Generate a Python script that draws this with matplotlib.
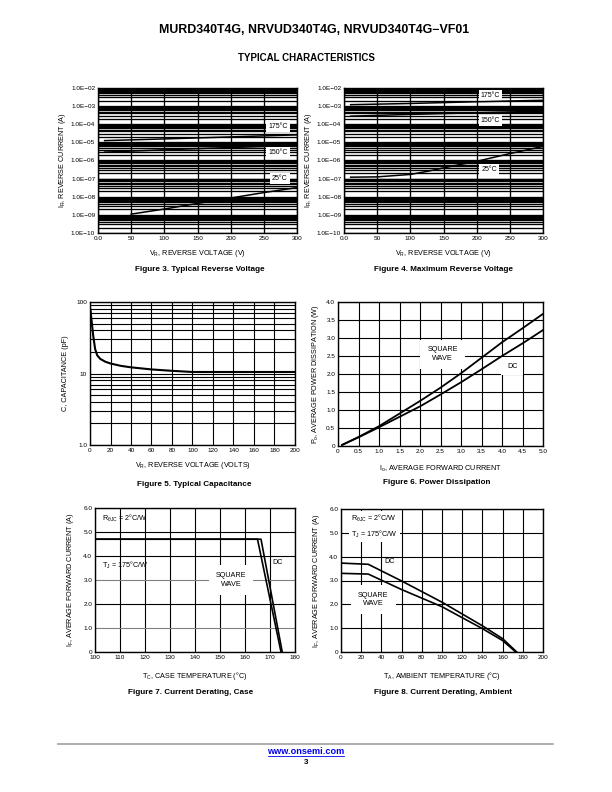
"""Typical characteristics page: MURD340T4G reverse current, capacitance, power, derating."""

import matplotlib
matplotlib.use("Agg")
import matplotlib.pyplot as plt
from matplotlib.lines import Line2D
from matplotlib.ticker import FixedLocator, LogLocator, NullFormatter

plt.rcParams["font.family"] = ["Liberation Sans", "DejaVu Sans"]
plt.rcParams["mathtext.default"] = "regular"

W, H = 612, 792

# Figure 3, typical reverse current (A) vs reverse voltage (V)
fig3_v_175 = [10, 100, 200, 300]
fig3_i_175 = [1.25e-5, 1.55e-5, 2.0e-5, 2.6e-5]
fig3_v_150 = [10, 100, 170, 240, 300]
fig3_i_150 = [2.9e-6, 3.9e-6, 4.8e-6, 5.8e-6, 7.0e-6]
fig3_v_25 = [50, 100, 150, 200, 250, 300]
fig3_i_25 = [1.1e-9, 2.1e-9, 4.3e-9, 8.5e-9, 1.7e-8, 3.2e-8]

# Figure 4, maximum reverse current
fig4_v_175 = [10, 100, 200, 300]
fig4_i_175 = [1.2e-3, 1.4e-3, 1.75e-3, 2.1e-3]
fig4_v_150 = [10, 100, 200, 300]
fig4_i_150 = [2.8e-4, 3.5e-4, 4.3e-4, 5.3e-4]
fig4_v_25 = [10, 50, 100, 125, 150, 175, 200, 250, 300]
fig4_i_25 = [1.2e-7, 1.25e-7, 1.7e-7, 2.5e-7, 3.9e-7, 6.0e-7, 9.0e-7, 2.4e-6, 6.0e-6]

# Figure 5, capacitance (pF) vs reverse voltage (V)
fig5_v = [0.5, 1, 2, 3, 5, 7, 10, 15, 20, 30, 40, 60, 80, 100, 150, 200]
fig5_c = [78, 65, 48, 35, 22, 18, 16, 14.6, 13.8, 12.8, 12.2, 11.4, 10.9, 10.5, 10.5, 10.5]

# Figure 6, power dissipation (W) vs average forward current (A)
fig6_io = [0.1, 0.5, 1.0, 1.5, 2.0, 2.5, 3.0, 3.5, 4.0, 4.5, 5.0]
fig6_sq = [0.03, 0.25, 0.55, 0.9, 1.25, 1.62, 2.02, 2.45, 2.88, 3.27, 3.67]
fig6_dc = [0.03, 0.24, 0.52, 0.81, 1.1, 1.43, 1.77, 2.13, 2.5, 2.85, 3.22]

# Figure 7, derating vs case temperature
fig7_tc_sq = [100, 165, 174.4]
fig7_if_sq = [4.7, 4.7, 0]
fig7_tc_dc = [100, 166.4, 174.9]
fig7_if_dc = [4.7, 4.7, 0]

# Figure 8, derating vs ambient temperature
fig8_ta_dc = [0, 27, 60, 100, 140, 160, 174]
fig8_if_dc = [3.73, 3.68, 2.98, 2.09, 1.1, 0.56, 0]
fig8_ta_sq = [0, 27, 60, 100, 140, 160, 173]
fig8_if_sq = [3.3, 3.27, 2.62, 1.9, 0.98, 0.48, 0]

TICK = 4.6
LAB = 5.2
CAP = 5.9
WHITE = dict(facecolor="white", edgecolor="none", pad=1.5)


def make_axes(fig, x0, y0, x1, y1):
    ax = fig.add_axes([x0 / W, 1 - y1 / H, (x1 - x0) / W, (y1 - y0) / H])
    for sp in ax.spines.values():
        sp.set_linewidth(1.0)
    ax.tick_params(which="both", length=0, labelsize=TICK, pad=2)
    return ax


def style_grid(ax, lw=0.8):
    ax.grid(which="both", color="black", linewidth=lw)
    ax.set_axisbelow(True)


def log_current_axes(ax):
    ax.set_yscale("log")
    ax.set_xlim(0, 300)
    ax.set_ylim(1e-10, 1e-2)
    ax.xaxis.set_major_locator(FixedLocator([0, 50, 100, 150, 200, 250, 300]))
    ax.set_xticklabels(["0.0", "50", "100", "150", "200", "250", "300"])
    exps = list(range(-10, -1))
    ax.yaxis.set_major_locator(FixedLocator([10.0 ** e for e in exps]))
    ax.set_yticklabels([f"1.0E\u2212{abs(e):02d}" for e in exps])
    ax.yaxis.set_minor_locator(LogLocator(base=10, subs=range(2, 10), numticks=20))
    ax.yaxis.set_minor_formatter(NullFormatter())
    style_grid(ax, lw=0.95)
    ax.set_xlabel("V$_R$, REVERSE VOLTAGE (V)", fontsize=LAB, labelpad=5)
    ax.set_ylabel("I$_R$, REVERSE CURRENT (A)", fontsize=LAB, labelpad=2)


def main():
    fig = plt.figure(figsize=(W / 100, H / 100), dpi=100)

    fig.text(314 / W, 1 - 30 / H, "MURD340T4G, NRVUD340T4G, NRVUD340T4G\u2212VF01",
             ha="center", va="center", fontsize=8.9, fontweight="bold")
    fig.text(306 / W, 1 - 58 / H, "TYPICAL CHARACTERISTICS",
             ha="center", va="center", fontsize=7.0, fontweight="bold")

    # Figure 3
    ax = make_axes(fig, 98, 88, 297, 233)
    log_current_axes(ax)
    ax.plot(fig3_v_175, fig3_i_175, color="black", lw=1.1, zorder=4)
    ax.plot(fig3_v_150, fig3_i_150, color="black", lw=1.1, zorder=4)
    ax.plot(fig3_v_25, fig3_i_25, color="black", lw=1.1, zorder=4)
    ax.text(271, 8e-5, "175\u00b0C", fontsize=TICK + 0.4, ha="center", va="center", bbox=WHITE)
    ax.text(271, 2.8e-6, "150\u00b0C", fontsize=TICK + 0.4, ha="center", va="center", bbox=WHITE)
    ax.text(274, 1.0e-7, "25\u00b0C", fontsize=TICK + 0.4, ha="center", va="center", bbox=WHITE)

    # Figure 4
    ax = make_axes(fig, 344, 88, 543, 233)
    log_current_axes(ax)
    ax.plot(fig4_v_175, fig4_i_175, color="black", lw=1.1, zorder=4)
    ax.plot(fig4_v_150, fig4_i_150, color="black", lw=1.1, zorder=4)
    ax.plot(fig4_v_25, fig4_i_25, color="black", lw=1.1, zorder=4)
    ax.text(221, 3.9e-3, "175\u00b0C", fontsize=TICK + 0.4, ha="center", va="center", bbox=WHITE)
    ax.text(221, 1.6e-4, "150\u00b0C", fontsize=TICK + 0.4, ha="center", va="center", bbox=WHITE)
    ax.text(219, 3.2e-7, "25\u00b0C", fontsize=TICK + 0.4, ha="center", va="center", bbox=WHITE)

    # Figure 5
    ax = make_axes(fig, 90, 302, 295, 445)
    ax.set_yscale("log")
    ax.set_xlim(0, 200)
    ax.set_ylim(1, 100)
    ax.xaxis.set_major_locator(FixedLocator(list(range(0, 201, 20))))
    ax.yaxis.set_major_locator(FixedLocator([1, 10, 100]))
    ax.set_yticklabels(["1.0", "10", "100"])
    ax.yaxis.set_minor_locator(LogLocator(base=10, subs=range(2, 10), numticks=10))
    ax.yaxis.set_minor_formatter(NullFormatter())
    style_grid(ax)
    ax.plot(fig5_v, fig5_c, color="black", lw=1.5, zorder=4)
    ax.set_xlabel("V$_R$, REVERSE VOLTAGE (VOLTS)", fontsize=LAB, labelpad=5)
    ax.set_ylabel("C, CAPACITANCE (pF)", fontsize=LAB, labelpad=5)

    # Figure 6
    ax = make_axes(fig, 338, 302, 543, 446)
    ax.set_xlim(0, 5)
    ax.set_ylim(0, 4)
    ax.xaxis.set_major_locator(FixedLocator([i * 0.5 for i in range(11)]))
    ax.set_xticklabels(["0"] + [f"{i * 0.5:.1f}" for i in range(1, 11)])
    ax.yaxis.set_major_locator(FixedLocator([i * 0.5 for i in range(9)]))
    ax.set_yticklabels(["0"] + [f"{i * 0.5:.1f}" for i in range(1, 9)])
    style_grid(ax)
    ax.plot(fig6_io, fig6_sq, color="black", lw=1.3, zorder=4)
    ax.plot(fig6_io, fig6_dc, color="black", lw=1.3, zorder=4)
    ax.text(2.55, 2.55, "SQUARE\nWAVE", fontsize=TICK + 0.6, ha="center", va="center",
            linespacing=1.3, bbox=dict(facecolor="white", edgecolor="none", pad=5))
    ax.text(4.25, 2.22, "DC", fontsize=TICK + 0.6, ha="center", va="center",
            bbox=dict(facecolor="white", edgecolor="none", pad=4))
    ax.set_xlabel("I$_o$, AVERAGE FORWARD CURRENT", fontsize=LAB, labelpad=7)
    ax.set_ylabel("P$_o$, AVERAGE POWER DISSIPATION (W)", fontsize=LAB, labelpad=4)

    # Figure 7
    ax = make_axes(fig, 95, 508, 295, 652)
    ax.set_xlim(100, 180)
    ax.set_ylim(0, 6)
    ax.xaxis.set_major_locator(FixedLocator(list(range(100, 181, 10))))
    ax.yaxis.set_major_locator(FixedLocator(list(range(7))))
    ax.set_yticklabels(["0", "1.0", "2.0", "3.0", "4.0", "5.0", "6.0"])
    style_grid(ax)
    for i, gl in enumerate(ax.get_ygridlines()):
        if i in (1, 3):
            gl.set_color("#808080")
    ax.plot(fig7_tc_sq, fig7_if_sq, color="black", lw=1.2, zorder=4)
    ax.plot(fig7_tc_dc, fig7_if_dc, color="black", lw=1.2, zorder=4)
    ax.text(103, 5.55, "R$_{\\theta JC}$ = 2\u00b0C/W", fontsize=TICK + 0.6, ha="left", va="center")
    ax.text(103, 3.6, "T$_J$ = 175\u00b0C/W", fontsize=TICK + 0.6, ha="left", va="center")
    ax.text(154.5, 3.0, "SQUARE\nWAVE", fontsize=TICK + 0.6, ha="center", va="center",
            linespacing=1.3, bbox=dict(facecolor="white", edgecolor="none", pad=5))
    ax.text(173, 3.75, "DC", fontsize=TICK + 0.6, ha="center", va="center")
    ax.set_xlabel("T$_C$, CASE TEMPERATURE (\u00b0C)", fontsize=LAB, labelpad=7)
    ax.set_ylabel("I$_F$, AVERAGE FORWARD CURRENT (A)", fontsize=LAB, labelpad=5)

    # Figure 8
    ax = make_axes(fig, 341, 509, 543, 652)
    ax.set_xlim(0, 200)
    ax.set_ylim(0, 6)
    ax.xaxis.set_major_locator(FixedLocator(list(range(0, 201, 20))))
    ax.yaxis.set_major_locator(FixedLocator(list(range(7))))
    ax.set_yticklabels(["0", "1.0", "2.0", "3.0", "4.0", "5.0", "6.0"])
    style_grid(ax)
    ax.plot(fig8_ta_dc, fig8_if_dc, color="black", lw=1.2, zorder=4)
    ax.plot(fig8_ta_sq, fig8_if_sq, color="black", lw=1.2, zorder=4)
    ax.text(10, 5.6, "R$_{\\theta JC}$ = 2\u00b0C/W", fontsize=TICK + 0.6, ha="left", va="center",
            bbox=WHITE)
    ax.text(10, 4.95, "T$_J$ = 175\u00b0C/W", fontsize=TICK + 0.6, ha="left", va="center",
            bbox=WHITE)
    ax.text(48, 3.8, "DC", fontsize=TICK + 0.6, ha="center", va="center")
    ax.text(32, 2.2, "SQUARE\nWAVE", fontsize=TICK + 0.6, ha="center", va="center",
            linespacing=1.3, bbox=dict(facecolor="white", edgecolor="none", pad=5))
    ax.set_xlabel("T$_A$, AMBIENT TEMPERATURE (\u00b0C)", fontsize=LAB, labelpad=7)
    ax.set_ylabel("I$_F$, AVERAGE FORWARD CURRENT (A)", fontsize=LAB, labelpad=5)

    captions = [
        (200, 270, "Figure 3. Typical Reverse Voltage"),
        (443, 270, "Figure 4. Maximum Reverse Voltage"),
        (194, 484, "Figure 5. Typical Capacitance"),
        (437, 483, "Figure 6. Power Dissipation"),
        (191, 692, "Figure 7. Current Derating, Case"),
        (443, 692, "Figure 8. Current Derating, Ambient"),
    ]
    for x, y, s in captions:
        fig.text(x / W, 1 - y / H, s, ha="center", va="center", fontsize=CAP, fontweight="bold")

    fig.add_artist(Line2D([58 / W, 553 / W], [1 - 744 / H, 1 - 744 / H],
                          color="#a0a0a0", linewidth=1.2))
    fig.text(306 / W, 1 - 751 / H, "www.onsemi.com", ha="center", va="center",
             fontsize=6.6, fontweight="bold", color="#0000ee")
    fig.add_artist(Line2D([268 / W, 344 / W], [1 - 756 / H, 1 - 756 / H],
                          color="#0000ee", linewidth=0.6))
    fig.text(306 / W, 1 - 762 / H, "3", ha="center", va="center", fontsize=5.8,
             fontweight="bold")

    fig.savefig("out.png", dpi=100, facecolor="white")
    plt.close(fig)


if __name__ == "__main__":
    main()
